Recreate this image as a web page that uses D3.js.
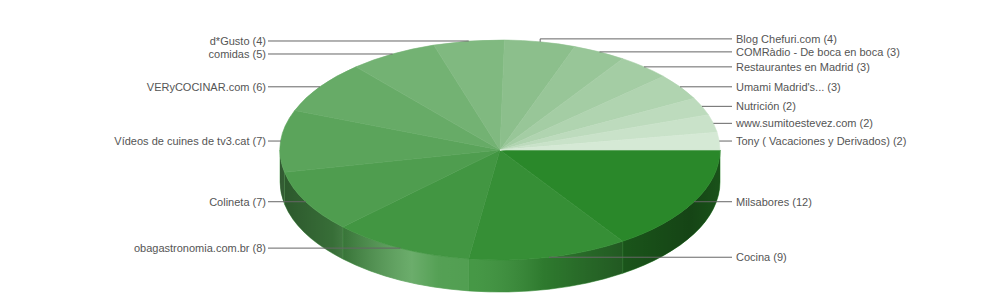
<!DOCTYPE html>
<html>
<head>
  <meta charset="utf-8">
  <style>
    body { margin: 0; background: #fff; }
    .label { font-family: "Liberation Sans", Arial, sans-serif; font-size: 11px; fill: #555; }
    .leader { stroke: #666; stroke-width: 1; fill: none; }
  </style>
</head>
<body>
  <div class="chart"></div>
  <script src="https://cdn.jsdelivr.net/npm/d3@7/dist/d3.min.js"></script>
  <script>
    // slices, clockwise from 3 o'clock
    const names = ["Milsabores", "Cocina", "obagastronomia.com.br", "Colineta",
      "Vídeos de cuines de tv3.cat", "VERyCOCINAR.com", "comidas", "d*Gusto",
      "Blog Chefuri.com", "COMRàdio - De boca en boca", "Restaurantes en Madrid",
      "Umami Madrid's...", "Nutrición", "www.sumitoestevez.com",
      "Tony ( Vacaciones y Derivados)"];
    const counts = [12, 9, 8, 7, 7, 6, 5, 4, 4, 3, 3, 3, 2, 2, 2];

    let width = 1000, height = 300;
    let cx = 500, cy = 150, rx = 220, ry = 110, depth = 32;
    let rightX = 736, leftX = 266;

    let svg = d3.select(".chart").append("svg")
      .attr("width", width)
      .attr("height", height);

    let data = names.map(function (n, i) { return { name: n, value: counts[i] }; });

    // d3.pie gives the angles, used here as screen angles from 3 o'clock
    let arcs = d3.pie().sort(null).value(function (d) { return d.value; })
      .startAngle(0).endAngle(2 * Math.PI)(data);

    let color = d3.scaleLinear()
      .domain([0, data.length - 1])
      .range(["#2a882a", "#d5e9d5"])
      .interpolate(d3.interpolateRgb);

    function pt(a, dy) {
      return [cx + rx * Math.cos(a), cy + ry * Math.sin(a) + (dy || 0)];
    }

    // lighting over the side wall
    let defs = svg.append("defs");
    let grad = defs.append("linearGradient")
      .attr("id", "sideShade")
      .attr("gradientUnits", "userSpaceOnUse")
      .attr("x1", cx - rx).attr("x2", cx + rx).attr("y1", 0).attr("y2", 0);
    [[0, "#000", 0.45], [0.12, "#000", 0.3], [0.3, "#fff", 0.22], [0.36, "#fff", 0.1],
     [0.44, "#fff", 0.08], [0.6, "#000", 0.15], [0.78, "#000", 0.38],
     [0.93, "#000", 0.5], [1, "#000", 0.4]].forEach(function (s) {
      grad.append("stop").attr("offset", s[0])
        .attr("stop-color", s[1]).attr("stop-opacity", s[2]);
    });

    // side walls (front half only)
    let sides = svg.append("g");
    arcs.forEach(function (d, i) {
      let a0 = Math.max(d.startAngle, 0), a1 = Math.min(d.endAngle, Math.PI);
      if (a1 <= a0) return;
      let p0 = pt(a0), p1 = pt(a1), q1 = pt(a1, depth), q0 = pt(a0, depth);
      let path = "M" + p0 + " A" + rx + "," + ry + " 0 0 1 " + p1 +
        " L" + q1 + " A" + rx + "," + ry + " 0 0 0 " + q0 + " Z";
      sides.append("path").attr("d", path).attr("fill", color(i))
        .attr("stroke", color(i)).attr("stroke-width", 0.6);
      sides.append("path").attr("d", path).attr("fill", "url(#sideShade)");
    });

    // top faces
    svg.append("g").selectAll("path")
      .data(arcs)
      .enter().append("path")
      .attr("fill", function (d, i) { return color(i); })
      .attr("stroke", function (d, i) { return color(i); })
      .attr("stroke-width", 0.6)
      .attr("stroke-linejoin", "round")
      .attr("d", function (d) {
        let p0 = pt(d.startAngle), p1 = pt(d.endAngle);
        let large = (d.endAngle - d.startAngle) > Math.PI ? 1 : 0;
        return "M" + cx + "," + cy + " L" + p0 + " A" + rx + "," + ry +
          " 0 " + large + " 1 " + p1 + " Z";
      });

    // labels: anchor on the rim at mid angle, then keep them apart
    let labels = arcs.map(function (d) {
      let mid = (d.startAngle + d.endAngle) / 2;
      let a = pt(mid);
      let right = Math.cos(mid) >= 0;
      return { text: d.data.name + " (" + d.data.value + ")", ax: a[0], ay: a[1], y: a[1], right: right };
    });
    [true, false].forEach(function (side) {
      let group = labels.filter(function (l) { return l.right === side; })
        .sort(function (a, b) { return a.y - b.y; });
      for (let i = group.length - 2; i >= 0; i--) {
        if (group[i].y > group[i + 1].y - 13) group[i].y = group[i + 1].y - 13;
      }
    });

    let lg = svg.append("g");
    labels.forEach(function (l) {
      let endX = l.right ? rightX - 4 : leftX + 2;
      lg.append("path")
        .attr("class", "leader")
        .attr("d", "M" + l.ax + "," + l.ay + " L" + l.ax + "," + l.y + " L" + endX + "," + l.y);
      lg.append("text")
        .attr("class", "label")
        .attr("x", l.right ? rightX : leftX)
        .attr("y", l.y)
        .attr("dy", "0.35em")
        .attr("text-anchor", l.right ? "start" : "end")
        .text(l.text);
    });
  </script>
</body>
</html>
